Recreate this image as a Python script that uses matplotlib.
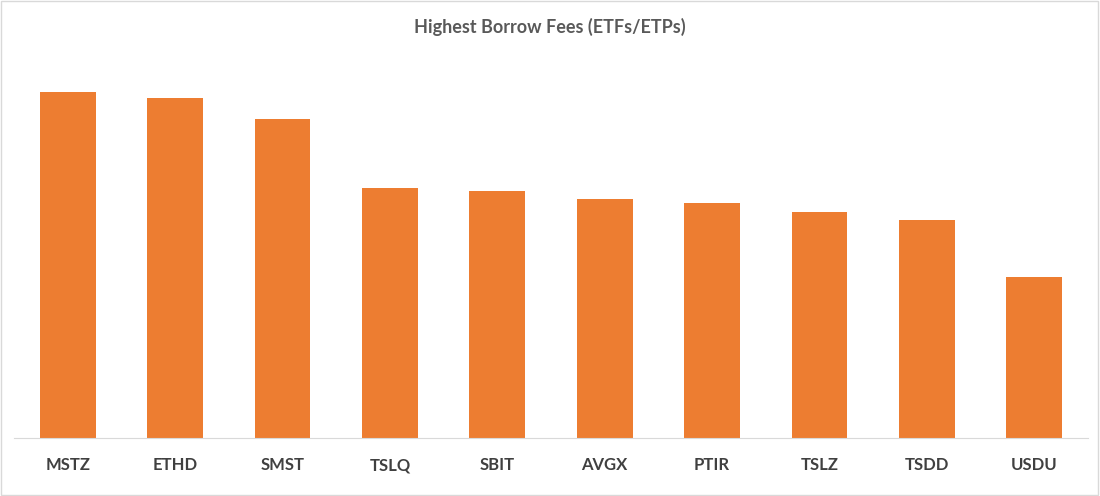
import matplotlib
matplotlib.use("Agg")
import matplotlib.pyplot as plt
from matplotlib.patches import Rectangle

categories = ["MSTZ", "ETHD", "SMST", "TSLQ", "SBIT", "AVGX", "PTIR", "TSLZ", "TSDD", "USDU"]
values = [346, 340, 319, 250, 247, 239, 235, 226, 218, 161]

fig = plt.figure(figsize=(11, 4.96), dpi=100)
ax = fig.add_axes([14/1100, 58/496, 1074/1100, 378/496])
ax.bar(range(len(categories)), values, width=0.52, color="#ED7D31")
ax.set_xlim(-0.5, len(categories) - 0.5)
ax.set_ylim(0, 378)
ax.set_xticks(range(len(categories)))
ax.set_xticklabels(categories, fontsize=12, fontweight="bold", color="#404040", family="Lato")
ax.tick_params(axis="x", length=0, pad=14)
ax.set_yticks([])
for s in ["top", "right", "left"]:
    ax.spines[s].set_visible(False)
ax.spines["bottom"].set_color("#D9D9D9")
fig.text(0.5, 0.945, "Highest Borrow Fees (ETFs/ETPs)", ha="center", va="center",
         fontsize=13, fontweight="bold", color="#595959", family="Lato")
fig.patches.append(Rectangle((0.001, 0.002), 0.997, 0.995, transform=fig.transFigure,
                             fill=False, edgecolor="#D9D9D9", linewidth=1))
fig.savefig("out.png", dpi=100)
